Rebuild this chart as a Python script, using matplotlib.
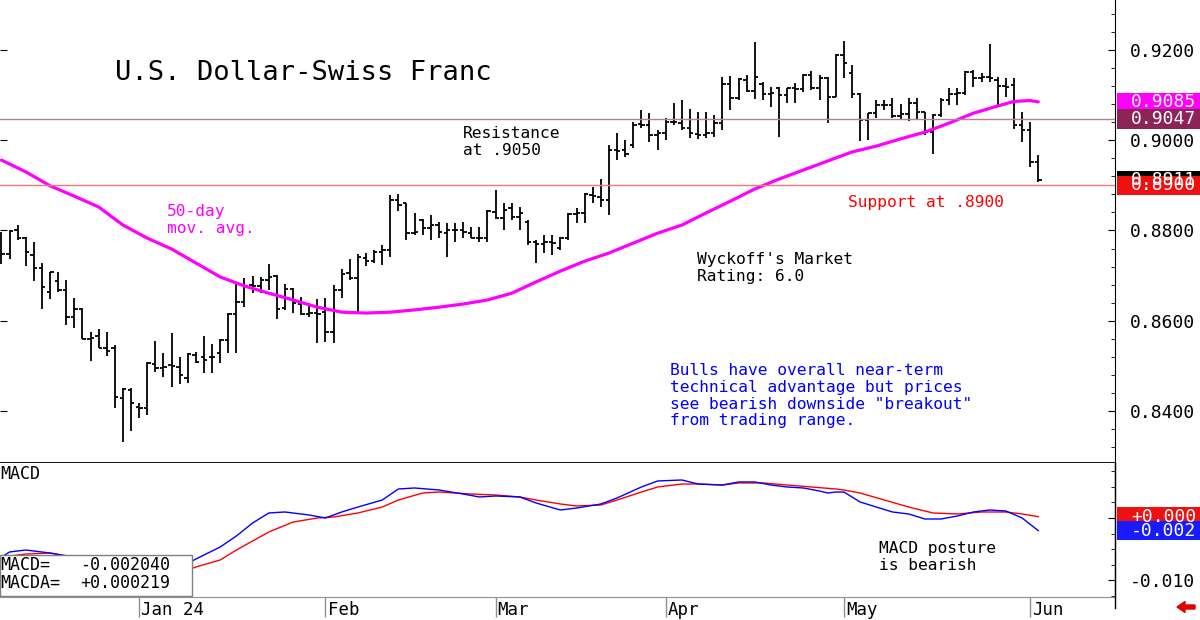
import numpy as np
import pandas as pd
import matplotlib
matplotlib.use('Agg')
from matplotlib import pyplot as plt
from matplotlib.patches import Rectangle, FancyArrow
from matplotlib.ticker import MultipleLocator, FixedLocator, FuncFormatter
import matplotlib.transforms as mtransforms

# pregões diários (dias úteis) de 07/12/2023 a 04/06/2024
dias = pd.bdate_range('2023-12-07', periods=129)

abertura = [
    0.8757, 0.8748, 0.8801, 0.8783, 0.8746, 0.8717, 0.8664, 0.8688, 0.8668, 0.8608,
    0.8626, 0.8560, 0.8566, 0.8540, 0.8540, 0.8429, 0.8447, 0.8409, 0.8407, 0.8504,
    0.8495, 0.8502, 0.8498, 0.8473, 0.8524, 0.8520, 0.8520, 0.8529, 0.8557, 0.8615,
    0.8642, 0.8679, 0.8677, 0.8690, 0.8699, 0.8628, 0.8670, 0.8637, 0.8615, 0.8617,
    0.8619, 0.8575, 0.8668, 0.8706, 0.8695, 0.8739, 0.8732, 0.8752, 0.8757, 0.8868,
    0.8861, 0.8794, 0.8823, 0.8806, 0.8812, 0.8794, 0.8801, 0.8801, 0.8794, 0.8783,
    0.8783, 0.8841, 0.8828, 0.8850, 0.8830, 0.8819, 0.8775, 0.8770, 0.8775, 0.8761,
    0.8783, 0.8837, 0.8839, 0.8879, 0.8874, 0.8868, 0.8978, 0.8978, 0.8989, 0.9036,
    0.9034, 0.9012, 0.9016, 0.9040, 0.9038, 0.9027, 0.9014, 0.9012, 0.9016, 0.9038,
    0.9125, 0.9094, 0.9134, 0.9109, 0.9125, 0.9102, 0.9116, 0.9100, 0.9116, 0.9114,
    0.9145, 0.9116, 0.9138, 0.9096, 0.9189, 0.9149, 0.9102, 0.9045, 0.9060, 0.9078,
    0.9078, 0.9054, 0.9058, 0.9083, 0.9063, 0.9018, 0.9056, 0.9089, 0.9102, 0.9105,
    0.9151, 0.9138, 0.9140, 0.9134, 0.9120, 0.9122, 0.9034, 0.9023, 0.8952]
maxima = [
    0.8797, 0.8801, 0.8812, 0.8786, 0.8775, 0.8728, 0.8708, 0.8708, 0.8690, 0.8650,
    0.8628, 0.8575, 0.8582, 0.8575, 0.8546, 0.8451, 0.8451, 0.8418, 0.8509, 0.8555,
    0.8529, 0.8573, 0.8520, 0.8529, 0.8531, 0.8566, 0.8549, 0.8560, 0.8617, 0.8684,
    0.8695, 0.8699, 0.8697, 0.8726, 0.8701, 0.8681, 0.8673, 0.8653, 0.8639, 0.8648,
    0.8650, 0.8679, 0.8715, 0.8737, 0.8748, 0.8750, 0.8757, 0.8768, 0.8879, 0.8881,
    0.8861, 0.8839, 0.8825, 0.8834, 0.8819, 0.8817, 0.8817, 0.8819, 0.8808, 0.8808,
    0.8845, 0.8890, 0.8861, 0.8861, 0.8852, 0.8823, 0.8779, 0.8790, 0.8790, 0.8786,
    0.8839, 0.8850, 0.8883, 0.8896, 0.8914, 0.8989, 0.9016, 0.9001, 0.9040, 0.9067,
    0.9060, 0.9023, 0.9049, 0.9083, 0.9089, 0.9069, 0.9063, 0.9063, 0.9056, 0.9140,
    0.9142, 0.9138, 0.9145, 0.9218, 0.9129, 0.9118, 0.9118, 0.9116, 0.9127, 0.9147,
    0.9153, 0.9145, 0.9140, 0.9191, 0.9220, 0.9167, 0.9105, 0.9060, 0.9089, 0.9089,
    0.9094, 0.9080, 0.9094, 0.9094, 0.9063, 0.9058, 0.9094, 0.9116, 0.9116, 0.9153,
    0.9156, 0.9149, 0.9213, 0.9140, 0.9138, 0.9138, 0.9063, 0.9040, 0.8967]
minima = [
    0.8726, 0.8737, 0.8779, 0.8721, 0.8688, 0.8626, 0.8648, 0.8664, 0.8591, 0.8584,
    0.8560, 0.8511, 0.8540, 0.8522, 0.8407, 0.8331, 0.8356, 0.8385, 0.8391, 0.8486,
    0.8475, 0.8453, 0.8460, 0.8462, 0.8507, 0.8484, 0.8484, 0.8507, 0.8529, 0.8529,
    0.8630, 0.8662, 0.8662, 0.8668, 0.8604, 0.8624, 0.8617, 0.8613, 0.8608, 0.8551,
    0.8553, 0.8551, 0.8650, 0.8690, 0.8617, 0.8721, 0.8728, 0.8724, 0.8741, 0.8843,
    0.8779, 0.8790, 0.8790, 0.8779, 0.8783, 0.8741, 0.8775, 0.8783, 0.8783, 0.8775,
    0.8775, 0.8825, 0.8801, 0.8823, 0.8801, 0.8768, 0.8728, 0.8750, 0.8746, 0.8757,
    0.8779, 0.8817, 0.8817, 0.8861, 0.8852, 0.8834, 0.8956, 0.8963, 0.8983, 0.9027,
    0.8996, 0.8978, 0.9001, 0.9034, 0.9023, 0.9005, 0.9003, 0.9005, 0.9007, 0.9023,
    0.9067, 0.9089, 0.9107, 0.9091, 0.9089, 0.9074, 0.9007, 0.9083, 0.9083, 0.9107,
    0.9111, 0.9089, 0.9038, 0.9096, 0.9138, 0.9094, 0.8998, 0.9001, 0.9049, 0.9067,
    0.9049, 0.9045, 0.9043, 0.9045, 0.9012, 0.8970, 0.9052, 0.9078, 0.9078, 0.9100,
    0.9118, 0.9129, 0.9129, 0.9078, 0.9096, 0.9025, 0.8996, 0.8941, 0.8907]
fechamento = [
    0.8748, 0.8799, 0.8783, 0.8752, 0.8717, 0.8675, 0.8708, 0.8668, 0.8608, 0.8626,
    0.8560, 0.8562, 0.8540, 0.8533, 0.8431, 0.8449, 0.8418, 0.8407, 0.8507, 0.8495,
    0.8498, 0.8500, 0.8480, 0.8526, 0.8509, 0.8513, 0.8520, 0.8557, 0.8615, 0.8642,
    0.8677, 0.8677, 0.8690, 0.8697, 0.8626, 0.8670, 0.8639, 0.8615, 0.8617, 0.8615,
    0.8575, 0.8668, 0.8704, 0.8695, 0.8741, 0.8732, 0.8752, 0.8757, 0.8868, 0.8857,
    0.8794, 0.8797, 0.8806, 0.8812, 0.8797, 0.8801, 0.8801, 0.8797, 0.8783, 0.8783,
    0.8843, 0.8828, 0.8845, 0.8830, 0.8839, 0.8775, 0.8770, 0.8775, 0.8772, 0.8783,
    0.8837, 0.8839, 0.8881, 0.8876, 0.8868, 0.8978, 0.8976, 0.8970, 0.9034, 0.9034,
    0.9012, 0.9016, 0.9040, 0.9040, 0.9027, 0.9016, 0.9012, 0.9016, 0.9038, 0.9125,
    0.9094, 0.9136, 0.9109, 0.9140, 0.9102, 0.9105, 0.9100, 0.9116, 0.9114, 0.9145,
    0.9116, 0.9138, 0.9096, 0.9189, 0.9171, 0.9102, 0.9045, 0.9060, 0.9078, 0.9078,
    0.9054, 0.9058, 0.9083, 0.9063, 0.9018, 0.9056, 0.9089, 0.9102, 0.9105, 0.9151,
    0.9138, 0.9140, 0.9138, 0.9120, 0.9118, 0.9034, 0.9023, 0.8952, 0.8911]

# média móvel de 50 dias (lida em pontos do gráfico)
mm50_idx = [0, 3, 6, 9, 12, 15, 18, 21, 24, 27, 30, 33, 36, 39, 42, 45, 48, 51, 54, 57,
            60, 63, 66, 69, 72, 75, 78, 81, 84, 87, 90, 93, 96, 99, 102, 105, 108, 111,
            114, 117, 120, 123, 125, 127, 128]
mm50_val = [0.8956, 0.8930, 0.8899, 0.8876, 0.8852, 0.8812, 0.8783, 0.8759, 0.8728,
            0.8697, 0.8677, 0.8661, 0.8646, 0.8630, 0.8619, 0.8617, 0.8619, 0.8624,
            0.8630, 0.8637, 0.8646, 0.8661, 0.8686, 0.8710, 0.8732, 0.8750, 0.8772,
            0.8794, 0.8812, 0.8839, 0.8865, 0.8892, 0.8914, 0.8934, 0.8954, 0.8974,
            0.8987, 0.9003, 0.9018, 0.9038, 0.9060, 0.9076, 0.9086, 0.9088, 0.9085]

macd_idx = [0, 1, 3, 6, 8, 11, 14, 17, 20, 22, 24, 27, 29, 31, 33, 35, 38, 40, 42, 44,
            47, 49, 51, 54, 57, 59, 61, 64, 66, 69, 71, 74, 76, 79, 81, 84, 86, 89, 91, 93,
            95, 97, 99, 101, 102, 103, 104, 105, 106, 108, 110, 112, 114, 116, 118, 120,
            122, 124, 126, 128]
macd_val = [-0.00629, -0.00548, -0.00516, -0.00565, -0.00613, -0.00758, -0.00903,
            -0.01000, -0.00935, -0.00806, -0.00661, -0.00468, -0.00290, -0.00081,
            0.00081, 0.00097, 0.00048, 0.00000, 0.00097, 0.00177, 0.00290, 0.00468,
            0.00484, 0.00452, 0.00387, 0.00339, 0.00355, 0.00339, 0.00242, 0.00129,
            0.00161, 0.00226, 0.00323, 0.00500, 0.00597, 0.00613, 0.00548, 0.00532,
            0.00581, 0.00581, 0.00532, 0.00500, 0.00484, 0.00435, 0.00403, 0.00419,
            0.00419, 0.00339, 0.00258, 0.00177, 0.00097, 0.00065, -0.00016, -0.00016,
            0.00032, 0.00097, 0.00129, 0.00113, 0.00000, -0.00204]
sinal_idx = [0, 3, 6, 9, 12, 15, 18, 21, 24, 27, 29, 33, 36, 39, 41, 44, 47, 49, 52, 54,
             58, 61, 64, 66, 69, 71, 74, 76, 79, 81, 84, 86, 89, 91, 94, 97, 100, 103, 104,
             106, 109, 112, 115, 118, 121, 124, 126, 128]
sinal_val = [-0.00629, -0.00581, -0.00565, -0.00629, -0.00758, -0.00871, -0.00952,
             -0.00935, -0.00790, -0.00677, -0.00516, -0.00226, -0.00065, 0.00000,
             0.00016, 0.00081, 0.00177, 0.00290, 0.00403, 0.00419, 0.00387, 0.00371,
             0.00339, 0.00290, 0.00226, 0.00194, 0.00210, 0.00290, 0.00419, 0.00500,
             0.00548, 0.00548, 0.00532, 0.00565, 0.00565, 0.00532, 0.00500, 0.00468,
             0.00452, 0.00403, 0.00290, 0.00177, 0.00081, 0.00065, 0.00097, 0.00097,
             0.00065, 0.00022]

resistencia = 0.9047
suporte = 0.8900
ultimo_macd = -0.002040
ultimo_sinal = 0.000219

W, H = 1200, 620
plt.rcParams['font.family'] = 'DejaVu Sans Mono'

fig = plt.figure(figsize=(12, 6.2), dpi=100)
ax = fig.add_axes([0, 1 - 463 / H, 1115 / W, 463 / H])
axm = fig.add_axes([0, 1 - 597 / H, 1115 / W, 134 / H])
axd = fig.add_axes([0, 0, 1115 / W, 23 / H])

xlim = (-0.185, 137.47)


def etiqueta(eixo, valor, texto, cor, altura):
    # caixinha colorida com o valor, à direita do eixo
    tr = mtransforms.blended_transform_factory(fig.transFigure, eixo.transData)
    fig.add_artist(Rectangle((1117 / W, valor - altura / 2), 83 / W, altura,
                             transform=tr, facecolor=cor, edgecolor='none'))
    fig.text(1131 / W, valor, texto, transform=tr, color='white', fontsize=13,
             va='center', ha='left')


def nota(eixo, x, y, linhas, passo, cor, tam=11.7):
    for k, linha in enumerate(linhas):
        eixo.text(x, y - k * passo, linha, color=cor, fontsize=tam, va='center', ha='left')


# ---- painel de preços ----
x = np.arange(len(fechamento))
ax.vlines(x, minima, maxima, color='black', lw=1.3)
ax.hlines(abertura, x - 0.42, x, color='black', lw=1.3)
ax.hlines(fechamento, x, x + 0.42, color='black', lw=1.3)
ax.plot(mm50_idx, mm50_val, color='#ff00ff', lw=2.3, solid_capstyle='round',
        solid_joinstyle='round')
ax.axhline(resistencia, color='#b67f92', lw=1)
ax.axhline(suporte, color='#f07a7a', lw=1)

ax.set_xlim(*xlim)
ax.set_ylim(0.82847, 0.93108)
ax.set_xticks([])
ax.yaxis.tick_right()
ax.yaxis.set_major_locator(FixedLocator([0.84, 0.86, 0.88, 0.90, 0.92]))
ax.yaxis.set_minor_locator(MultipleLocator(0.004))
ax.yaxis.set_major_formatter(FuncFormatter(lambda v, p: f'{v:.4f}'))
ax.tick_params(axis='y', which='major', direction='in', length=5, pad=11,
               labelsize=13, left=True, right=True, labelleft=False)
ax.tick_params(axis='y', which='minor', direction='in', length=3, right=True, left=False)
for lado in ['top', 'left']:
    ax.spines[lado].set_visible(False)
ax.spines['bottom'].set_linewidth(1.3)

ax.text(14.0, 0.9148, 'U.S. Dollar-Swiss Franc', fontsize=19.5, va='center', ha='left')
nota(ax, 57.0, 0.9014, ['Resistance', 'at .9050'], 0.0037, 'black')
nota(ax, 20.4, 0.8843, ['50-day', 'mov. avg.'], 0.0038, '#ff00ff')
nota(ax, 104.5, 0.8861, ['Support at .8900'], 0.0038, '#ff0000')
nota(ax, 85.9, 0.8735, ["Wyckoff's Market", 'Rating: 6.0'], 0.0038, 'black')
nota(ax, 82.5, 0.8489, ['Bulls have overall near-term',
                        'technical advantage but prices',
                        'see bearish downside "breakout"',
                        'from trading range.'], 0.0037, '#0000ff')

# ---- painel MACD ----
axm.plot(sinal_idx, sinal_val, color='#ff0000', lw=1.0)
axm.plot(macd_idx, macd_val, color='#0000ff', lw=1.0)
axm.set_xlim(*xlim)
axm.set_ylim(-0.01274, 0.00887)
axm.set_xticks([])
axm.yaxis.tick_right()
axm.yaxis.set_major_locator(FixedLocator([-0.010, 0.0]))
axm.yaxis.set_minor_locator(MultipleLocator(0.0025))
axm.yaxis.set_major_formatter(FuncFormatter(lambda v, p: '-0.010' if v < -0.005 else ''))
axm.tick_params(axis='y', which='major', direction='in', length=5, pad=11, labelsize=13)
axm.tick_params(axis='y', which='minor', direction='in', length=3)
for lado in ['top', 'left']:
    axm.spines[lado].set_visible(False)
axm.spines['bottom'].set_color('#909090')

axm.text(-0.1, 0.0071, 'MACD', fontsize=12, va='center', ha='left')
nota(axm, 108.3, -0.00484, ['MACD posture', 'is bearish'], 0.00274, 'black')

axm.add_patch(Rectangle((xlim[0], -0.01258), 23.7, 0.00661, facecolor='white',
                        edgecolor='#808080', lw=1, zorder=5))
axm.text(-0.1, -0.00758, 'MACD=', fontsize=12, va='center', zorder=6)
axm.text(9.7, -0.00758, f'{ultimo_macd:+.6f}'.replace('+', ' '), fontsize=12, va='center', zorder=6)
axm.text(-0.1, -0.01048, 'MACDA=', fontsize=12, va='center', zorder=6)
axm.text(9.7, -0.01048, f'{ultimo_sinal:+.6f}', fontsize=12, va='center', zorder=6)

# ---- faixa de datas ----
axd.set_xlim(*xlim)
axd.set_ylim(0, 1)
axd.axis('off')
inicio_mes = [i for i in range(1, len(dias)) if dias[i].month != dias[i - 1].month]
for i in inicio_mes:
    rotulo = dias[i].strftime('%b %y') if dias[i].month == 1 else dias[i].strftime('%b')
    axd.vlines(i, 0.13, 1, color='#909090', lw=1)
    axd.text(i + 0.25, 0.45, rotulo, fontsize=12.5, va='center', ha='left')
fig.add_artist(plt.Line2D([1115 / W, 1115 / W], [0.02, 1 - 463 / H], color='black', lw=1))

# ---- etiquetas de valor ----
etiqueta(ax, mm50_val[-1], f'{mm50_val[-1]:.4f}', '#ff00ff', 0.0040)
etiqueta(ax, resistencia, f'{resistencia:.4f}', '#8c2458', 0.0043)
etiqueta(ax, fechamento[-1], f'{fechamento[-1]:.4f}', 'black', 0.0043)
etiqueta(ax, suporte, f'{suporte:.4f}', '#ee1111', 0.0043)
etiqueta(axm, ultimo_sinal, f'{ultimo_sinal:+.3f}', '#ee1111', 0.0031)
etiqueta(axm, ultimo_macd, f'{ultimo_macd:+.3f}', '#1a1aff', 0.0031)

fig.add_artist(FancyArrow(1195 / W, 13 / H, -18 / W, 0, width=4 / H, head_width=11 / H,
                          head_length=8 / W, length_includes_head=True,
                          transform=fig.transFigure, color='#e00000'))

fig.savefig('out.png', dpi=100)
